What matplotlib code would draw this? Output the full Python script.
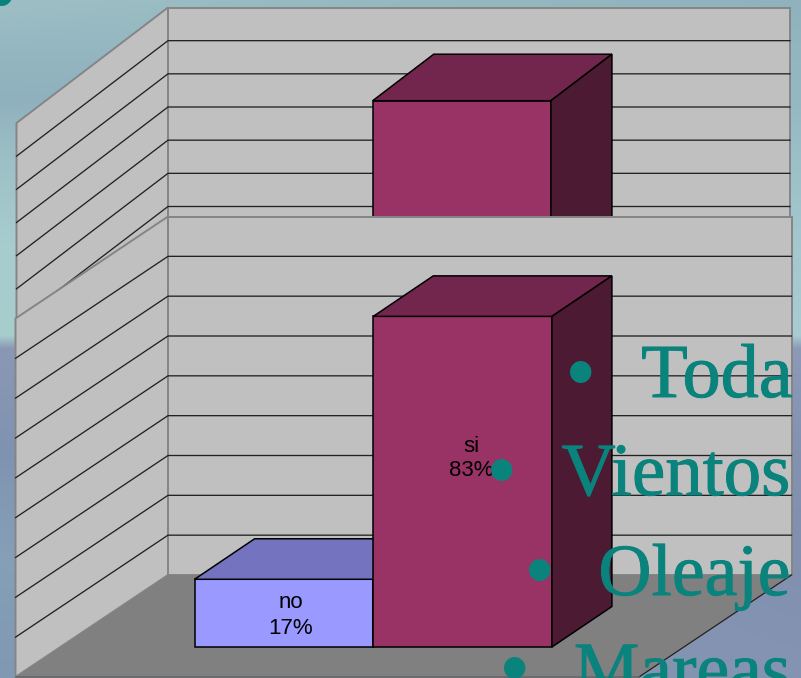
import numpy as np
import matplotlib
matplotlib.use("Agg")
import matplotlib.pyplot as plt
import matplotlib.patheffects as pe
from matplotlib.patches import Polygon

W, H = 801, 678

# --- data -----------------------------------------------------------------
categories = ["no", "si"]
values = [17, 83]
value_labels = ["17%", "83%"]
axis_max = 90
axis_step = 10
bullet_words = ["Toda", "Vientos", "Oleaje", "Mareas"]

# --- colours --------------------------------------------------------------
WALL = "#C0C0C0"
FLOOR = "#808080"
WALL_EDGE = "#858585"
FRONT = ["#9999FF", "#993366"]
TOP = ["#7373BF", "#73264D"]
SIDE = ["#4D4D80", "#4D1A33"]
TEAL = "#0A837D"

fig = plt.figure(figsize=(W / 100, H / 100), dpi=100)
ax = fig.add_axes([0, 0, 1, 1])
ax.set_xlim(0, W)
ax.set_ylim(H, 0)
ax.axis("off")

# --- background -----------------------------------------------------------
bg_y = [0, 60, 100, 160, 250, 335, 348, 450, 560, 678]
bg_left = ["#9DBFC4", "#93B5C0", "#8FB1BE", "#9DC0C6", "#A8CDCF", "#A8CCCC",
           "#8A98B5", "#7F93B0", "#86A0B8", "#8098B2"]
bg_right = ["#8FB2BD", "#93B6C0", "#95B8C3", "#9CC0C8", "#A5C8CF", "#A8CCD2",
            "#8C9AB8", "#8492B2", "#8290B0", "#8494B2"]
to_rgb = lambda seq: np.array([matplotlib.colors.to_rgb(c) for c in seq])
ys = np.arange(H)
left_col = np.stack([np.interp(ys, bg_y, to_rgb(bg_left)[:, i]) for i in range(3)], axis=1)
right_col = np.stack([np.interp(ys, bg_y, to_rgb(bg_right)[:, i]) for i in range(3)], axis=1)
t = np.linspace(0, 1, W)[None, :, None]
bg = left_col[:, None, :] * (1 - t) + right_col[:, None, :] * t
ax.imshow(bg, extent=(0, W, H, 0), aspect="auto", zorder=0, interpolation="bilinear")
ax.set_xlim(0, W)
ax.set_ylim(H, 0)


def draw_chart(left, right, top, floor, dx, dy, bar_dx, bar_dy, lift, shift, z):
    """Oblique 3-D column chart: one category, one column per series."""
    unit = (floor - top) / axis_max
    y_of = lambda v: floor - v * unit
    # walls and floor
    ax.add_patch(Polygon([(left, top + dy), (left + dx, top), (left + dx, floor), (left, floor + dy)],
                         closed=True, fc=WALL, ec=WALL_EDGE, lw=1.4, zorder=z))
    ax.add_patch(Polygon([(left + dx, top), (right, top), (right, floor), (left + dx, floor)],
                         closed=True, fc=WALL, ec=WALL_EDGE, lw=1.4, zorder=z))
    ax.add_patch(Polygon([(left, floor + dy), (left + dx, floor), (right, floor), (right - dx, floor + dy)],
                         closed=True, fc=FLOOR, ec="none", zorder=z))
    ax.plot([right, right - dx], [floor, floor + dy], color="#222222", lw=0.9, zorder=z + 0.1)
    ax.plot([left, right - dx], [floor + dy, floor + dy], color="#666666", lw=1.2, zorder=z + 0.1)
    # gridlines
    for v in np.arange(axis_step, axis_max, axis_step):
        y = y_of(v)
        ax.plot([left, left + dx, right], [y + dy, y, y], color="#222222", lw=0.95,
                zorder=z + 0.2, solid_joinstyle="miter")
    # columns
    n = len(values)
    width = (right - left - dx) / 3.49
    x0 = left + shift + (right - left - dx - n * width) / 2
    base = floor + dy - lift
    for i, v in enumerate(values):
        xa, xb = x0 + i * width, x0 + (i + 1) * width
        yt = base - v * unit
        kw = dict(closed=True, ec="black", lw=1.1, joinstyle="miter", zorder=z + 1 + 0.1 * i)
        ax.add_patch(Polygon([(xa, base), (xb, base), (xb, yt), (xa, yt)], fc=FRONT[i], **kw))
        ax.add_patch(Polygon([(xa, yt), (xb, yt), (xb + bar_dx, yt - bar_dy), (xa + bar_dx, yt - bar_dy)], fc=TOP[i], **kw))
        ax.add_patch(Polygon([(xb, base), (xb + bar_dx, base - bar_dy), (xb + bar_dx, yt - bar_dy), (xb, yt)], fc=SIDE[i], **kw))
    return x0, width, base, unit


# rear copy of the chart, then the front copy overlapping it
draw_chart(16.5, 790, 7.5, 306, 151.5, 115.5, 61, 46.5, 45.5, 45.2, 10)
x0, bw, base, unit = draw_chart(15.5, 791.5, 216.5, 575, 152.5, 102, 60, 40.5, 30, 46.0, 20)

# data labels
label_lift = [31.5, 188.5]
label_dx = [7, 8.5]
for i, (c, lab) in enumerate(zip(categories, value_labels)):
    ax.text(x0 + (i + 0.5) * bw + label_dx[i], base - label_lift[i], f"{c}\n{lab}", ha="center", va="center",
            fontsize=16, family="Liberation Sans", color="black", linespacing=1.25, zorder=30)

# overlaid bullet list
word_right = [792.5, 790.5, 790.5, 790.5]
word_size = [55, 54, 53, 53]
baselines = [397, 495, 595, 693]
bullet_x = [581, 502, 540, 514.5]
bullet_base = [402, 500, 600, 698]
bold = [pe.withStroke(linewidth=0.7, foreground=TEAL)]
font = dict(family="Liberation Serif", color=TEAL, zorder=31, va="baseline")
for w, yb, bx, by, xr, fs in zip(bullet_words, baselines, bullet_x, bullet_base, word_right, word_size):
    ax.text(xr, yb, w, ha="right", fontsize=fs, path_effects=bold, **font)
    ax.text(bx, by, "\u2022", ha="center", fontsize=64.5, **font)
ax.text(2, 25, "\u2022", ha="center", fontsize=64.5, **font)

fig.savefig("out.png", dpi=100)
